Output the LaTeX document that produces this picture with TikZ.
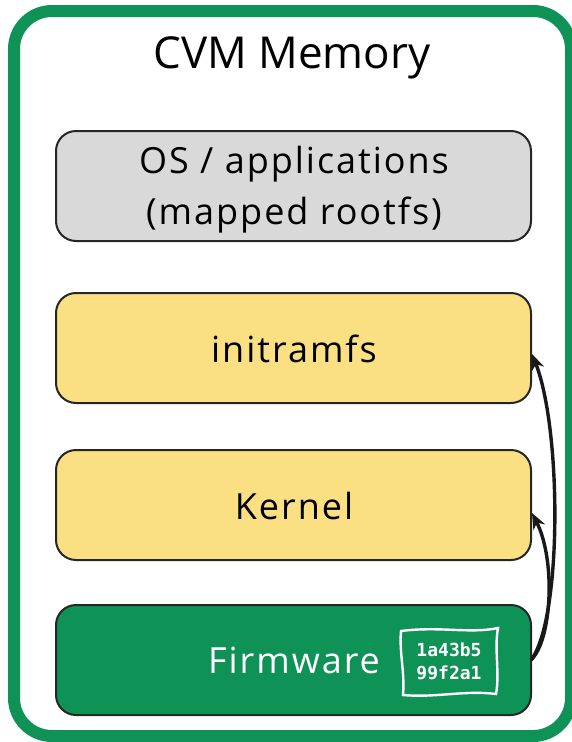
\documentclass[tikz,border=0pt]{standalone}
\usepackage{fontspec}
\setmainfont{Open Sans}
\setmonofont{DejaVu Sans Mono}
\newfontfamily\boxfont[LetterSpace=5.5]{Open Sans}
\usetikzlibrary{arrows.meta}
\definecolor{cvmgreen}{HTML}{0F9256}
\definecolor{osgray}{HTML}{D9D9D9}
\definecolor{memyellow}{HTML}{FAE082}
\begin{document}
\begin{tikzpicture}[x=1pt,y=-1pt,
  membox/.style={draw=black!85,line width=2pt,rounded corners=20pt,minimum width=475pt,minimum height=110pt,inner sep=0pt},
  boxtext/.style={font=\boxfont\fontsize{36}{51}\selectfont,align=center,inner sep=0pt},
  hashlink/.style={-{Stealth[length=16pt,width=13pt]},line width=3.4pt,black!90}]
\useasboundingbox (0,0) rectangle (572,742);
\draw[cvmgreen,line width=12pt,rounded corners=38pt] (14,11) rectangle (571,736);
\node (title) at (292,58) {\fontsize{44}{50}\selectfont CVM Memory};
\node[membox,fill=osgray] (os) at (293.5,186) {};
\node[boxtext] (oslabel) at (294,190) {OS / applications\\(mapped rootfs)};
\node[membox,fill=memyellow] (initrd) at (293.5,348) {};
\node[boxtext] (initrdlabel) at (294,349) {initramfs};
\node[membox,fill=memyellow] (kernel) at (293.5,505) {};
\node[boxtext] (kernellabel) at (294,506) {Kernel};
\node[membox,fill=cvmgreen] (fw) at (293.5,660) {};
\node[boxtext,text=white] (fwlabel) at (294,660) {Firmware};
\draw[white,line width=2.4pt] (401,631) .. controls (440,626) and (470,634) .. (498,628) .. controls (494,650) and (500,672) .. (496,694) .. controls (465,690) and (435,698) .. (403,695) .. controls (405,672) and (399,652) .. (401,631) -- cycle;
\node[text=white,font=\ttfamily\bfseries\fontsize{18}{23}\selectfont,align=center] (hash) at (449,661) {1a43b5\\99f2a1};
\coordinate (fwR) at (531,660);
\draw[hashlink] (fwR) .. controls (552,640) and (556,560) .. (kernel.east |- 0,513);
\draw[hashlink] (fwR) .. controls (562,620) and (562,430) .. (initrd.east |- 0,354);
\end{tikzpicture}
\end{document}
